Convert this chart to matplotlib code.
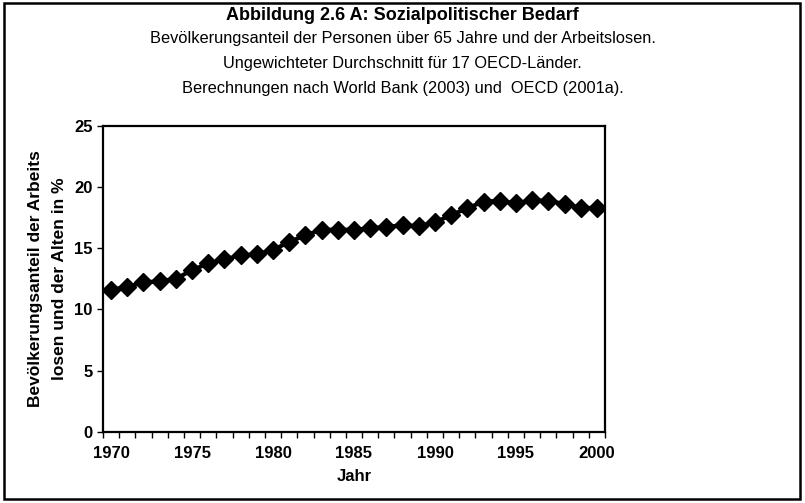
import matplotlib.pyplot as plt
from matplotlib.patches import Rectangle

years = list(range(1970, 2001))
bedarf = [11.6, 11.85, 12.2, 12.3, 12.5, 13.2, 13.75, 14.1, 14.4, 14.5,
          14.85, 15.5, 16.05, 16.5, 16.5, 16.5, 16.6, 16.75, 16.85, 16.8,
          17.1, 17.7, 18.25, 18.8, 18.85, 18.65, 18.9, 18.85, 18.6, 18.3,
          18.25]
year_labels = [1970, 1975, 1980, 1985, 1990, 1995, 2000]

title = "Abbildung 2.6 A: Sozialpolitischer Bedarf"
subtitle = ["Bevölkerungsanteil der Personen über 65 Jahre und der Arbeitslosen.",
            "Ungewichteter Durchschnitt für 17 OECD-Länder.",
            "Berechnungen nach World Bank (2003) und  OECD (2001a)."]

plt.rcParams['font.family'] = ['Liberation Sans', 'DejaVu Sans']

fig = plt.figure(figsize=(8.05, 5.03), dpi=100)
ax = fig.add_axes([103 / 805, 71 / 503, 502 / 805, 306.5 / 503])

ax.plot(years, bedarf, color='black', lw=3, marker='D', markersize=9.5,
        markerfacecolor='black', markeredgecolor='black')

ax.set_xlim(1969.5, 2000.5)
ax.set_ylim(0, 25)
ax.set_yticks(range(0, 26, 5))
ax.set_xticks([y - 0.5 for y in years] + [2000.5])
ax.set_xticklabels([])
ax.set_xticks(year_labels, minor=True)
ax.set_xticklabels([str(y) for y in year_labels], minor=True)
ax.tick_params(axis='x', which='major', direction='out', length=4, width=1)
ax.tick_params(axis='x', which='minor', length=0, pad=10, labelsize=12)
ax.tick_params(axis='y', direction='out', length=4, width=1, labelsize=12)
for lab in ax.get_xticklabels(minor=True) + ax.get_yticklabels():
    lab.set_fontweight('bold')
for sp in ax.spines.values():
    sp.set_linewidth(1.6)

ax.set_xlabel("Jahr", fontsize=12, fontweight='bold', labelpad=6)
ax.set_ylabel("Bevölkerungsanteil der Arbeits\nlosen und der Alten in %",
              fontsize=12.5, fontweight='bold', labelpad=5, linespacing=1.75)

fig.text(0.5, 1 - 15 / 503, title, ha='center', va='center',
         fontsize=13, fontweight='bold')
for i, s in enumerate(subtitle):
    fig.text(0.5, 1 - (39 + i * 24.5) / 503, s, ha='center', va='center',
             fontsize=11.8)

fig.patches.append(Rectangle((4 / 805, 4 / 503), 796 / 805, 496 / 503,
                             transform=fig.transFigure, fill=False,
                             edgecolor='black', lw=1.8))

fig.savefig("out.png", dpi=100)
